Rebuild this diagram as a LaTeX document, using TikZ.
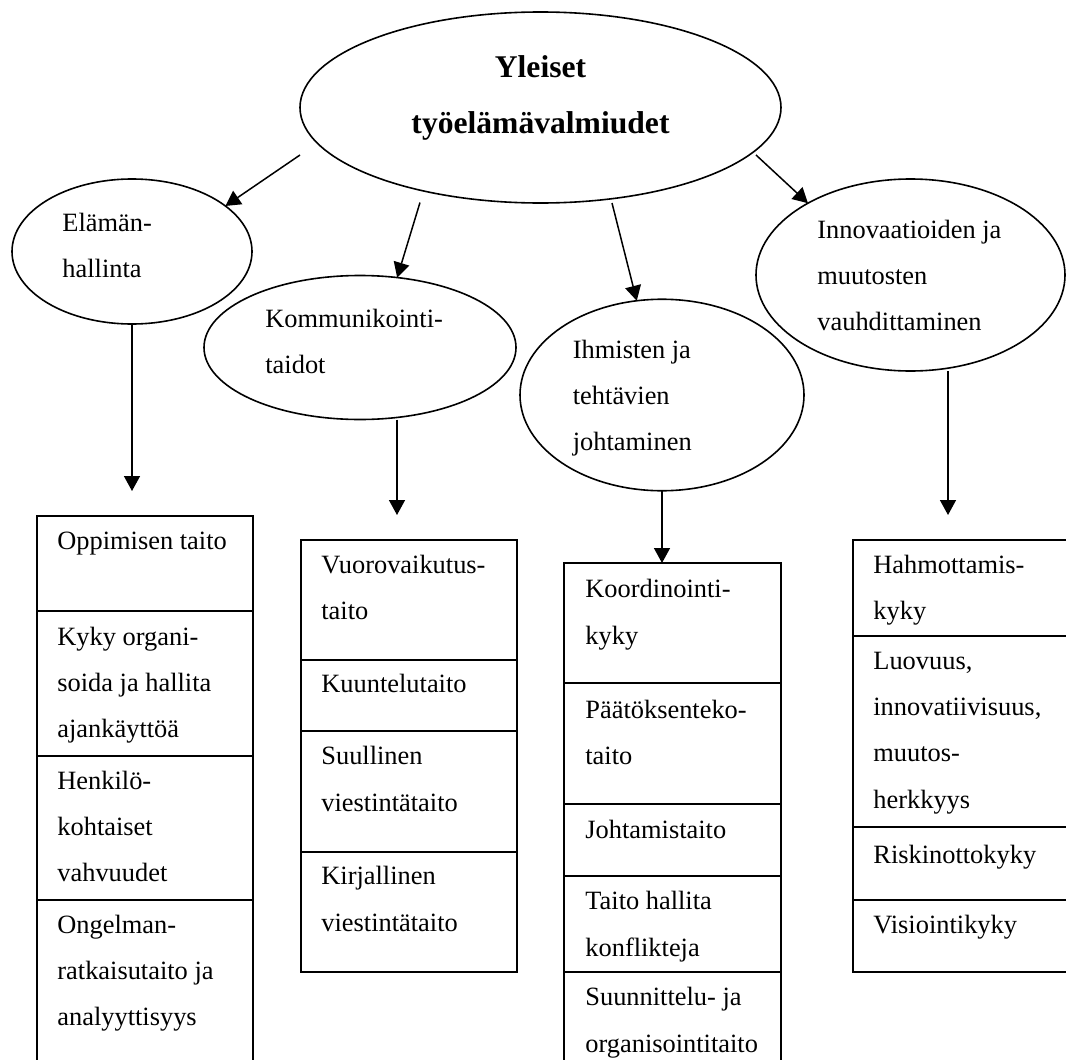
\documentclass[tikz,border=0pt]{standalone}
\usepackage{fontspec}
\setmainfont{Liberation Serif}
\usetikzlibrary{shapes.geometric,arrows.meta}
\begin{document}
\begin{tikzpicture}[x=0.5pt,y=-0.5pt,
  ell/.style={draw, ellipse, line width=0.8pt, inner sep=0pt, outer sep=0pt},
  cell/.style={draw, rectangle, line width=1pt, inner sep=0pt, outer sep=0pt, anchor=north west},
  txt/.style={anchor=base west, align=left, inner sep=0pt, font=\fontsize{13.2}{23.1}\selectfont},
  ttl/.style={anchor=base, align=center, inner sep=0pt, font=\fontsize{15.8}{28}\selectfont\bfseries},
  arr/.style={-{Triangle[length=7.5pt,width=8pt]}, line width=0.75pt}]
\useasboundingbox (0,0) rectangle (1066,1060);

% ellipses
\node[ell, minimum width=240.5pt, minimum height=95.5pt] (main) at (540.5,107.5) {};
\node[ell, minimum width=120pt, minimum height=72.5pt] (e1) at (132,251.5) {};
\node[ell, minimum width=156pt, minimum height=72pt] (e2) at (360,347.5) {};
\node[ell, minimum width=142pt, minimum height=95.75pt] (e3) at (662,395) {};
\node[ell, minimum width=154.5pt, minimum height=96pt] (e4) at (910.5,275) {};

% ellipse texts (positions = baseline of last line)
\node[ttl] (tmain1) at (540.5,77) {Yleiset};
\node[ttl] (tmain2) at (540.5,133) {työelämävalmiudet};
\node[txt] (te1) at (62,277.5) {Elämän-\\hallinta};
\node[txt] (te2) at (265,373.5) {Kommunikointi-\\taidot};
\node[txt] (te3) at (572.5,450.5) {Ihmisten ja\\tehtävien\\johtaminen};
\node[txt] (te4) at (817,330.5) {Innovaatioiden ja\\muutosten\\vauhdittaminen};

% boxes
\node[cell, minimum width=108pt, minimum height=47.9pt] (c11) at (36.5,515.5) {};
\node[cell, minimum width=108pt, minimum height=72.35pt] (c12) at (36.5,611.3) {};
\node[cell, minimum width=108pt, minimum height=72pt] (c13) at (36.5,756) {};
\node[cell, minimum width=108pt, minimum height=81.5pt] (c14) at (36.5,900) {};

\node[cell, minimum width=108pt, minimum height=60pt] (c21) at (300.5,539.6) {};
\node[cell, minimum width=108pt, minimum height=35.7pt] (c22) at (300.5,659.6) {};
\node[cell, minimum width=108pt, minimum height=60.5pt] (c23) at (300.5,731) {};
\node[cell, minimum width=108pt, minimum height=59.85pt] (c24) at (300.5,852) {};

\node[cell, minimum width=108.5pt, minimum height=60pt] (c31) at (564,563) {};
\node[cell, minimum width=108.5pt, minimum height=60.4pt] (c32) at (564,683) {};
\node[cell, minimum width=108.5pt, minimum height=36.05pt] (c33) at (564,803.8) {};
\node[cell, minimum width=108.5pt, minimum height=47.9pt] (c34) at (564,875.9) {};
\node[cell, minimum width=108.5pt, minimum height=45.65pt] (c35) at (564,971.7) {};

\node[cell, minimum width=108.75pt, minimum height=47.95pt] (c41) at (852.5,539.6) {};
\node[cell, minimum width=108.75pt, minimum height=95.75pt] (c42) at (852.5,635.5) {};
\node[cell, minimum width=108.75pt, minimum height=36.5pt] (c43) at (852.5,827) {};
\node[cell, minimum width=108.75pt, minimum height=35.85pt] (c44) at (852.5,900) {};

% box texts (positions = baseline of last line)
\node[txt] (t11) at (57,549) {Oppimisen taito};
\node[txt] (t12) at (57,737.5) {Kyky organi-\\soida ja hallita\\ajankäyttöä};
\node[txt] (t13) at (57,881.5) {Henkilö-\\kohtaiset\\vahvuudet};
\node[txt] (t14) at (57,1025.5) {Ongelman-\\ratkaisutaito ja\\analyyttisyys};

\node[txt] (t21) at (321,619.5) {Vuorovaikutus-\\taito};
\node[txt] (t22) at (321,692) {Kuuntelutaito};
\node[txt] (t23) at (321,811) {Suullinen\\viestintätaito};
\node[txt] (t24) at (321,931) {Kirjallinen\\viestintätaito};

\node[txt] (t31) at (585,644) {Koordinointi-\\kyky};
\node[txt] (t32) at (585,764.5) {Päätöksenteko-\\taito};
\node[txt] (t33) at (585,838.8) {Johtamistaito};
\node[txt] (t34) at (585,956) {Taito hallita\\konflikteja};
\node[txt] (t35) at (585,1052) {Suunnittelu- ja\\organisointitaito};

\node[txt] (t41) at (873,619.5) {Hahmottamis-\\kyky};
\node[txt] (t42) at (873,808) {Luovuus,\\innovatiivisuus,\\muutos-\\herkkyys};
\node[txt] (t43) at (873,863) {Riskinottokyky};
\node[txt] (t44) at (873,933.6) {Visiointikyky};

% arrow anchors
\coordinate (s1) at (300,155);
\coordinate (s2) at (420,202.5);
\coordinate (s3) at (612,203);
\coordinate (s4) at (756,155);
\coordinate (d1) at (132,491);
\coordinate (d2) at (397,515);
\coordinate (d4) at (948,515);

% arrows
\draw[arr] (s1) -- (e1.26.8);
\draw[arr] (s2) -- (e2.62.8);
\draw[arr] (s3) -- (e3.105.3);
\draw[arr] (s4) -- (e4.145.75);
\draw[arr] (e1.south) -- (d1);
\draw[arr] (e2.south -| d2) -- (d2);
\draw[arr] (e3.south) -- (e3.south |- c31.north);
\draw[arr] (e4.south -| d4) -- (d4);
\end{tikzpicture}
\end{document}
